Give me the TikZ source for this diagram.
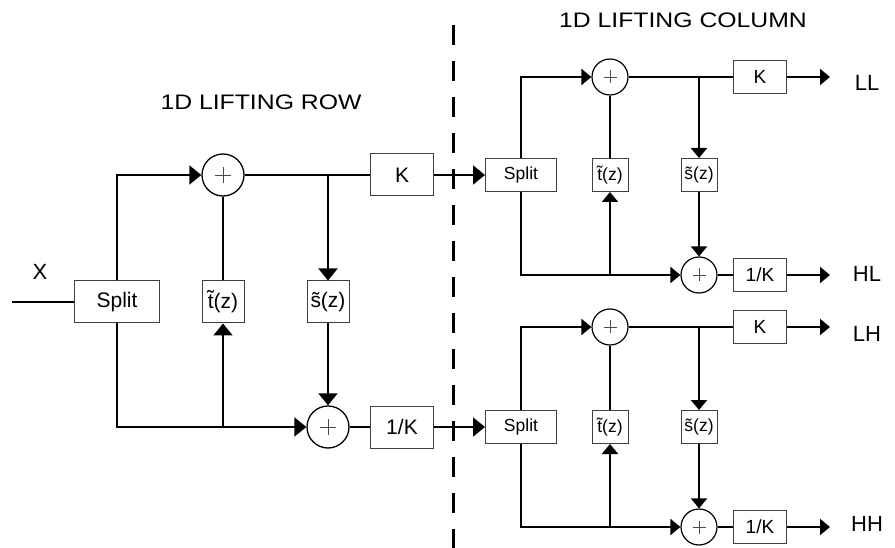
\documentclass[tikz,border=0pt]{standalone}
\usepackage{fontspec}
\setmainfont{Liberation Sans}
\newfontfamily\titlefont{Liberation Sans}[FakeStretch=1.18]
\usetikzlibrary{arrows.meta}

\begin{document}
\begin{tikzpicture}[x=1pt, y=-1pt, line width=2pt,
  >={Triangle[length=12pt,width=19pt]},
  sarr/.style={-{Triangle[length=10pt,width=16pt]}},
  blk/.style={draw=black!75, line width=1pt, inner sep=0pt},
  big/.style={blk, minimum height=42pt, font=\fontsize{21}{24}\selectfont},
  sml/.style={blk, minimum height=33pt, font=\fontsize{17.5}{20}\selectfont},
  kbox/.style={blk, minimum width=53pt, minimum height=33pt, font=\fontsize{19}{22}\selectfont},
  lbl/.style={font=\fontsize{22}{25}\selectfont},
  ttl/.style={font=\titlefont\fontsize{21}{24}\selectfont},
  sumbig/.style={draw, circle, line width=1.3pt, minimum size=42pt, inner sep=0pt,
    path picture={\draw[line width=0.7pt, black!70]
      ([xshift=-8pt]path picture bounding box.center) -- ([xshift=8pt]path picture bounding box.center)
      ([yshift=-8pt]path picture bounding box.center) -- ([yshift=8pt]path picture bounding box.center);}},
  sumsml/.style={draw, circle, line width=1.2pt, minimum size=36pt, inner sep=0pt,
    path picture={\draw[line width=0.6pt, black!70]
      ([xshift=-6.5pt]path picture bounding box.center) -- ([xshift=6.5pt]path picture bounding box.center)
      ([yshift=-6.5pt]path picture bounding box.center) -- ([yshift=6.5pt]path picture bounding box.center);}}]
  \useasboundingbox (0,0) rectangle (895,548);

  % titles and the dashed divider
  \node[ttl] (trow) at (261,102) {1D LIFTING ROW};
  \node[ttl] (tcol) at (683,20) {1D LIFTING COLUMN};
  \coordinate (d1) at (453,25);
  \coordinate (d2) at (453,548);
  \draw[line width=3pt, dash pattern=on 20pt off 16pt] (d1) -- (d2);

  % row lifting
  \node[lbl] (x) at (40,272) {X};
  \coordinate (in) at (12,302);
  \node[big, minimum width=85pt] (sp1) at (117,302) {Split};
  \node[sumbig] (a1) at (223,175) {};
  \node[big, minimum width=42pt] (t1) at (223,302) {\~{t}(z)};
  \node[big, minimum width=42pt] (s1) at (328,302) {\~{s}(z)};
  \node[sumbig] (a2) at (328,427) {};
  \node[big, minimum width=63pt] (k1) at (402,175) {K};
  \node[big, minimum width=63pt] (ik1) at (402,427) {1/K};
  \coordinate (j1) at (328,175);
  \coordinate (j2) at (223,427);
  \draw (in) -- (sp1);
  \draw[->] (sp1) |- (a1);
  \draw (a1) -- (k1);
  \draw (t1) -- (a1);
  \draw[->] (j1) -- (s1);
  \draw[->] (sp1) |- (a2);
  \draw[->] (j2) -- (t1);
  \draw[->] (s1) -- (a2);
  \draw (a2) -- (ik1);

  % column lifting, upper
  \node[sml, minimum width=71pt] (sp2) at (521,175) {Split};
  \node[sumsml] (a3) at (610,77) {};
  \node[sml, minimum width=36pt] (t2) at (610,175) {\~{t}(z)};
  \node[sml, minimum width=36pt] (s2) at (699,175) {\~{s}(z)};
  \node[sumsml] (a4) at (699,275) {};
  \node[kbox] (k2) at (760,77) {K};
  \node[kbox] (ik2) at (760,275) {1/K};
  \coordinate (j3) at (699,77);
  \coordinate (j4) at (610,275);
  \coordinate (o1) at (830,77);
  \coordinate (o2) at (830,275);
  \node[lbl] (ll) at (867,83) {LL};
  \node[lbl] (hl) at (867,274) {HL};
  \draw[->] (k1) -- (sp2);
  \draw[sarr] (sp2) |- (a3);
  \draw (a3) -- (k2);
  \draw (t2) -- (a3);
  \draw[sarr] (j3) -- (s2);
  \draw[sarr] (sp2) |- (a4);
  \draw[sarr] (j4) -- (t2);
  \draw[sarr] (s2) -- (a4);
  \draw (a4) -- (ik2);
  \draw[sarr] (k2) -- (o1);
  \draw[sarr] (ik2) -- (o2);

  % column lifting, lower
  \node[sml, minimum width=71pt] (sp3) at (521,427) {Split};
  \node[sumsml] (a5) at (610,327) {};
  \node[sml, minimum width=36pt] (t3) at (610,427) {\~{t}(z)};
  \node[sml, minimum width=36pt] (s3) at (699,427) {\~{s}(z)};
  \node[sumsml] (a6) at (699,527) {};
  \node[kbox] (k3) at (760,327) {K};
  \node[kbox] (ik3) at (760,527) {1/K};
  \coordinate (j5) at (699,327);
  \coordinate (j6) at (610,527);
  \coordinate (o3) at (830,327);
  \coordinate (o4) at (830,527);
  \node[lbl] (lh) at (867,334) {LH};
  \node[lbl] (hh) at (867,524) {HH};
  \draw[->] (ik1) -- (sp3);
  \draw[sarr] (sp3) |- (a5);
  \draw (a5) -- (k3);
  \draw (t3) -- (a5);
  \draw[sarr] (j5) -- (s3);
  \draw[sarr] (sp3) |- (a6);
  \draw[sarr] (j6) -- (t3);
  \draw[sarr] (s3) -- (a6);
  \draw (a6) -- (ik3);
  \draw[sarr] (k3) -- (o3);
  \draw[sarr] (ik3) -- (o4);
\end{tikzpicture}
\end{document}
